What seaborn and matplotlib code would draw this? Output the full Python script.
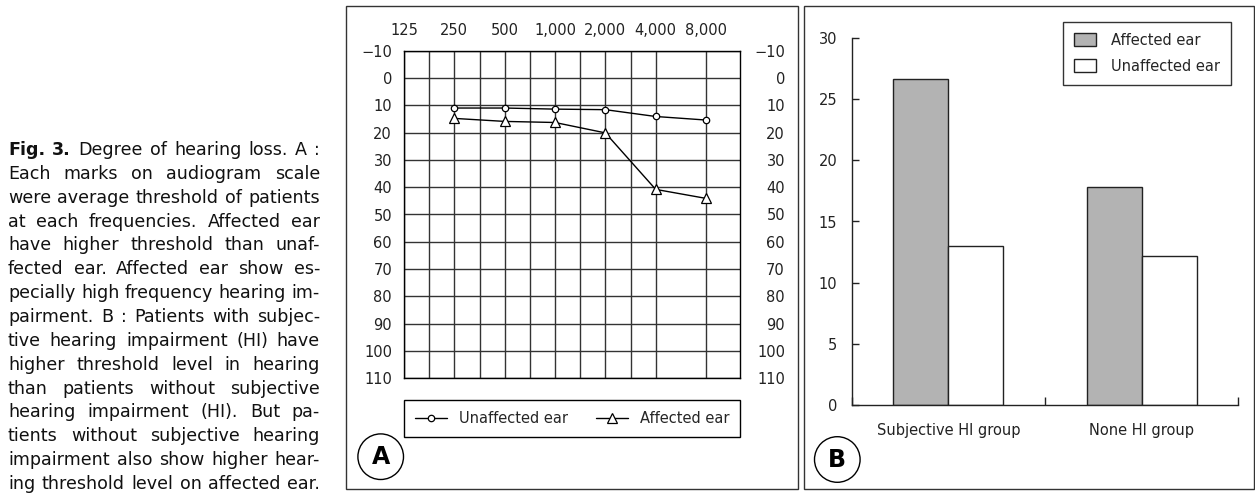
import numpy as np
import pandas as pd
import matplotlib
matplotlib.use("Agg")
import matplotlib.pyplot as plt
import seaborn as sns
from matplotlib.lines import Line2D
from matplotlib.patches import Rectangle, Ellipse, Patch
from matplotlib.ticker import FixedLocator, NullFormatter

sns.set_theme(style="white")
plt.rcParams["font.family"] = ["DejaVu Sans"]
plt.rcParams["axes.edgecolor"] = "black"

# ---------------- data ----------------
frequencies = [250, 500, 1000, 2000, 4000, 8000]
freq_ticks = [125, 250, 500, 1000, 2000, 4000, 8000]
freq_tick_labels = ["125", "250", "500", "1,000", "2,000", "4,000", "8,000"]
unaffected_threshold = [11.0, 11.0, 11.4, 11.6, 14.1, 15.4]
affected_threshold = [14.8, 15.9, 16.3, 20.1, 40.8, 44.1]
hl_ticks = [-10, 0, 10, 20, 30, 40, 50, 60, 70, 80, 90, 100, 110]

groups = ["Subjective HI group", "None HI group"]
ear_labels = ["Affected ear", "Unaffected ear"]
affected_mean = [26.7, 17.8]
unaffected_mean = [13.0, 12.2]
bar_ticks = [0, 5, 10, 15, 20, 25, 30]

caption_lines = [
    "Fig. 3. Degree of hearing loss. A :",
    "Each marks on audiogram scale",
    "were average threshold of patients",
    "at each frequencies. Affected ear",
    "have higher threshold than unaf-",
    "fected ear. Affected ear show es-",
    "pecially high frequency hearing im-",
    "pairment. B : Patients with subjec-",
    "tive hearing impairment (HI) have",
    "higher threshold level in hearing",
    "than patients without subjective",
    "hearing impairment (HI). But pa-",
    "tients without subjective hearing",
    "impairment also show higher hear-",
    "ing threshold level on affected ear.",
]

# ---------------- figure ----------------
W, H = 1255, 494
fig = plt.figure(figsize=(W / 100, H / 100), dpi=100)


def rect_px(l, t, r, b):
    return [l / W, 1 - b / H, (r - l) / W, (b - t) / H]


def fx(x):
    return x / W


def fy(y):
    return 1 - y / H


# panel frames
for (l, t, r, b) in [(346, 6, 798.3, 489.3), (804.3, 6, 1254, 489.3)]:
    fig.add_artist(Rectangle((fx(l), fy(b)), (r - l) / W, (b - t) / H,
                             transform=fig.transFigure, fill=False,
                             ec="#333333", lw=1.0))

# ---------------- panel A: audiogram ----------------
axA = fig.add_axes(rect_px(404, 50.7, 740, 378.3))
df_a = pd.DataFrame({
    "freq": frequencies * 2,
    "threshold": unaffected_threshold + affected_threshold,
    "ear": ["Unaffected ear"] * len(frequencies) + ["Affected ear"] * len(frequencies),
})
sns.lineplot(data=df_a, x="freq", y="threshold", hue="ear", style="ear",
             markers={"Unaffected ear": "o", "Affected ear": "^"}, dashes=False,
             palette={"Unaffected ear": "black", "Affected ear": "black"},
             markerfacecolor="white", markeredgecolor="black", markeredgewidth=0.9,
             linewidth=1.0, legend=False, ax=axA, zorder=5)
for ln in axA.lines:
    if ln.get_marker() == "o":
        ln.set_markersize(4.6)
    else:
        ln.set_markersize(7.5)

axA.set_xscale("log", base=2)
axA.set_xlim(125, 125 * 2 ** 6.675)
axA.set_ylim(110, -10)
axA.set_xticks(freq_ticks)
axA.set_xticklabels(freq_tick_labels)
axA.xaxis.set_minor_locator(FixedLocator([125 * 2 ** (k + 0.5) for k in range(5)]))
axA.xaxis.set_minor_formatter(NullFormatter())
axA.set_yticks(hl_ticks)
axA.set_xlabel("")
axA.set_ylabel("")
axA.tick_params(axis="x", which="both", top=True, bottom=False, labeltop=True,
                labelbottom=False, length=0, pad=9, labelsize=10.5, colors="#222222")
axA.tick_params(axis="y", length=0, pad=8.6, labelsize=10.5, colors="#222222")
axA.grid(True, which="both", axis="x", color="#333333", lw=1.0)
axA.grid(True, which="major", axis="y", color="#333333", lw=1.0)
for s in axA.spines.values():
    s.set_color("black")
    s.set_linewidth(1.0)

axR = axA.twinx()
axR.set_ylim(110, -10)
axR.set_yticks(hl_ticks)
axR.tick_params(axis="y", length=0, pad=32.4, labelsize=10.5, colors="#222222")
for t in axR.get_yticklabels():
    t.set_horizontalalignment("right")
axR.grid(False)
for s in axR.spines.values():
    s.set_visible(False)

handlesA = [
    Line2D([], [], color="black", lw=1, marker="o", mfc="white", mec="black", ms=4.6, mew=0.9),
    Line2D([], [], color="black", lw=1, marker="^", mfc="white", mec="black", ms=7.5, mew=0.9),
]
fig.legend(handlesA, ["Unaffected ear", "Affected ear"], loc="center",
           bbox_to_anchor=(fx(404), fy(438.3), (740 - 404) / W, (438.3 - 399.3) / H),
           mode="expand", ncol=2, frameon=True, fancybox=False, edgecolor="black",
           fontsize=10.5, handlelength=2.2, handletextpad=0.8, borderpad=0.75,
           borderaxespad=0, framealpha=1)
legA = fig.legends[-1]
legA.get_frame().set_linewidth(1.0)

# ---------------- panel B: bar chart ----------------
axB = fig.add_axes(rect_px(851.7, 38.3, 1238.3, 404.7))
df_b = pd.DataFrame({
    "group": groups * 2,
    "value": affected_mean + unaffected_mean,
    "ear": [ear_labels[0]] * len(groups) + [ear_labels[1]] * len(groups),
})
bar_palette = {"Affected ear": "#b3b3b3", "Unaffected ear": "white"}
sns.barplot(data=df_b, x="group", y="value", hue="ear", hue_order=ear_labels,
            order=groups, palette=bar_palette, edgecolor="#222222", linewidth=1.0,
            width=0.57, saturation=1, legend=False, ax=axB)
axB.set_xlim(-0.5, 1.5)
axB.set_ylim(0, 30)
axB.set_yticks(bar_ticks)
axB.set_xlabel("")
axB.set_ylabel("")
axB.spines["top"].set_visible(False)
axB.spines["right"].set_visible(False)
for s in ["left", "bottom"]:
    axB.spines[s].set_color("#222222")
    axB.spines[s].set_linewidth(1.0)
axB.tick_params(axis="y", direction="in", left=True, length=5, width=1.0,
                pad=10.4, labelsize=10.5, colors="#222222")
axB.xaxis.set_minor_locator(FixedLocator([-0.5, 0.5, 1.5]))
axB.tick_params(axis="x", which="major", length=0, pad=13, labelsize=10.5, colors="#222222")
axB.tick_params(axis="x", which="minor", direction="in", bottom=True, length=5.8,
                width=1.0, color="#222222")

handlesB = [Patch(fc=bar_palette[e], ec="#222222", lw=1.0) for e in ear_labels]
fig.legend(handlesB, ear_labels, loc="upper left",
           bbox_to_anchor=(fx(1062.7), fy(21.7)), frameon=True, fancybox=False,
           edgecolor="#333333", fontsize=10.5, handlelength=1.55, handleheight=1.03,
           handletextpad=1.0, labelspacing=0.75, borderpad=0.75, borderaxespad=0,
           framealpha=1)
fig.legends[-1].get_frame().set_linewidth(1.0)

# ---------------- panel letters ----------------
for letter, cx, cy in [("A", 380.7, 456.7), ("B", 837.3, 459.5)]:
    r = 22.8
    fig.add_artist(Ellipse((fx(cx), fy(cy)), 2 * r / W, 2 * r / H,
                           transform=fig.transFigure, fill=False, ec="black", lw=1.0))
    fig.text(fx(cx), fy(cy), letter, fontsize=17, fontweight="bold",
             ha="center", va="center", color="black")

# ---------------- caption (justified) ----------------
renderer = fig.canvas.get_renderer()
cap_family = ["DejaVu Sans"]
x0, x1 = 8.0, 320.0
baselines = [155 + i * (489 - 155) / (len(caption_lines) - 1) for i in range(len(caption_lines))]


def word_weights(i, words):
    return ["bold" if (i == 0 and j < 2) else "normal" for j in range(len(words))]


def text_w(s, size, weight="normal"):
    t = fig.text(0, 0, s, fontsize=size, fontweight=weight, family=cap_family)
    w = t.get_window_extent(renderer).width
    t.remove()
    return w


def natural_width(size):
    spw = text_w("a a", size) - text_w("aa", size)
    mx = 0
    for i, line in enumerate(caption_lines):
        words = line.split()
        ws = word_weights(i, words)
        tot = sum(text_w(w, size, wt) for w, wt in zip(words, ws))
        tot += spw * (len(words) - 1)
        mx = max(mx, tot)
    return mx


base_size = 12.0
cap_size = base_size * (x1 - x0) / natural_width(base_size) * 0.995
cap_size = min(cap_size, 13.5)

for i, line in enumerate(caption_lines):
    words = line.split()
    ws = word_weights(i, words)
    arts = [fig.text(0, fy(baselines[i]), w, fontsize=cap_size, fontweight=wt,
                     family=cap_family, ha="left", va="baseline", color="#111111")
            for w, wt in zip(words, ws)]
    widths = [a.get_window_extent(renderer).width for a in arts]
    gap = ((x1 - x0) - sum(widths)) / max(len(words) - 1, 1)
    x = x0
    for a, wd in zip(arts, widths):
        a.set_x(fx(x))
        x += wd + gap

fig.savefig("out.png", dpi=100)
